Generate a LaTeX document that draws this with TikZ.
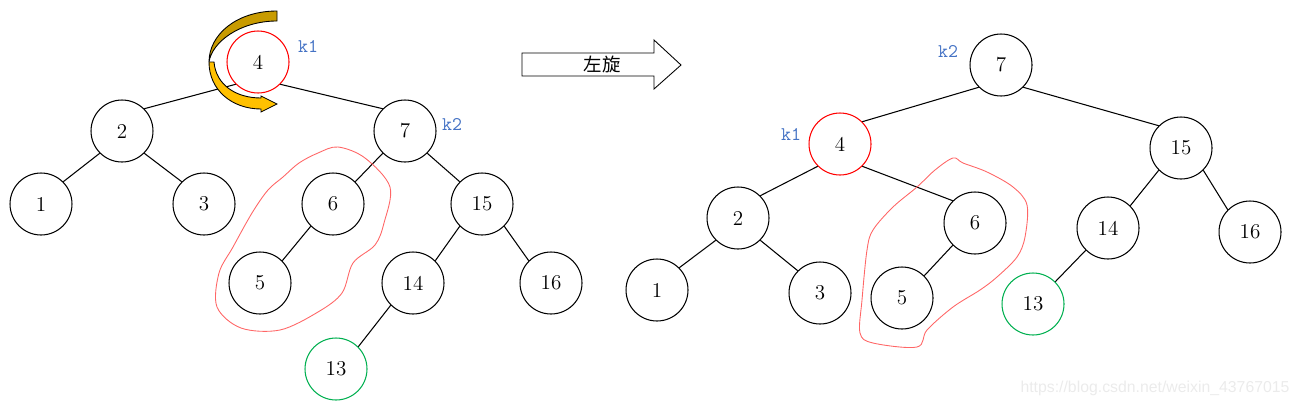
\documentclass[tikz,border=0pt]{standalone}
\usepackage{fontspec}
\newfontfamily\cjk{Noto Sans CJK SC}
\newfontfamily\wmfont{Liberation Sans}
\usetikzlibrary{arrows.meta}
\definecolor{keyblue}{RGB}{68,114,196}
\definecolor{goldtop}{RGB}{200,155,0}
\definecolor{goldlow}{RGB}{255,192,0}
\definecolor{newgreen}{RGB}{0,176,80}

\begin{document}
\begin{tikzpicture}[x=0.02cm, y=-0.02cm,
        treenode/.style={draw, circle, line width=0.6pt, minimum size=1.24cm, inner sep=0pt, fill=white, font=\fontsize{12}{14}\selectfont},
        keylabel/.style={text=keyblue, font=\ttfamily\fontsize{11}{13}\selectfont},
        edge/.style={draw, line width=0.6pt},
        sketch/.style={draw=red!60, line width=0.5pt}
    ]
    \useasboundingbox (0,0) rectangle (1300,406);

    % before the rotation
    \node[treenode, draw=red] (l4) at (258,62) {4};
    \node[treenode] (l2) at (122,131) {2};
    \node[treenode] (l7) at (405,131) {7};
    \node[treenode] (l1) at (41,204) {1};
    \node[treenode] (l3) at (204,204) {3};
    \node[treenode] (l6) at (333,204) {6};
    \node[treenode] (l15) at (482,204) {15};
    \node[treenode] (l5) at (260,283) {5};
    \node[treenode] (l14) at (413,283) {14};
    \node[treenode] (l16) at (551,283) {16};
    \node[treenode, draw=newgreen] (l13) at (336,369) {13};
    \node[keylabel] (lk1) at (308,46) {k1};
    \node[keylabel] (lk2) at (452,124) {k2};

    \draw[edge] (l4.south west) -- (l2.north east);
    \draw[edge] (l4.south east) -- (l7.north west);
    \draw[edge] (l2.south west) -- (l1.north east);
    \draw[edge] (l2.south east) -- (l3.north west);
    \draw[edge] (l7.south west) -- (l6.north east);
    \draw[edge] (l7.south east) -- (l15.north west);
    \draw[edge] (l6.south west) -- (l5.north east);
    \draw[edge] (l15.south west) -- (l14.north east);
    \draw[edge] (l15.south east) -- (l16.north west);
    \draw[edge] (l14.south west) -- (l13.north east);

    % rotation arrow
    \node[font=\cjk\fontsize{10.5}{12}\selectfont] (rot) at (602,64) {左旋};
    \draw[line width=0.5pt] (522,53) -- (654,53) -- (654,40) -- (681,65) -- (654,89) -- (654,76) -- (522,76) -- cycle;

    % after the rotation
    \node[treenode] (r7) at (1001,65) {7};
    \node[treenode, draw=red] (r4) at (840,144) {4};
    \node[treenode] (r15) at (1181,148) {15};
    \node[treenode] (r2) at (738,218) {2};
    \node[treenode] (r6) at (975,223) {6};
    \node[treenode] (r14) at (1108,228) {14};
    \node[treenode] (r16) at (1250,232) {16};
    \node[treenode] (r1) at (657,290) {1};
    \node[treenode] (r3) at (820,293) {3};
    \node[treenode] (r5) at (902,298) {5};
    \node[treenode, draw=newgreen] (r13) at (1033,304) {13};
    \node[keylabel] (rk2) at (948,51) {k2};
    \node[keylabel] (rk1) at (791,134) {k1};

    \draw[edge] (r7.south west) -- (r4.north east);
    \draw[edge] (r7.south east) -- (r15.north west);
    \draw[edge] (r4.south west) -- (r2.north east);
    \draw[edge] (r4.south east) -- (r6.north west);
    \draw[edge] (r2.south west) -- (r1.north east);
    \draw[edge] (r2.south east) -- (r3.north west);
    \draw[edge] (r6.south west) -- (r5.north east);
    \draw[edge] (r15.south west) -- (r14.north east);
    \draw[edge] (r15.south east) -- (r16.north west);
    \draw[edge] (r14.south west) -- (r13.north east);

    % hand-drawn marks round the moved subtree
    \draw[sketch] plot[smooth cycle, tension=0.55] coordinates {(338,147) (365,158) (390,187) (384,223) (375,245) (353,263) (342,293) (318,312) (280,330) (241,328) (217,307) (219,273) (233,247) (252,213) (268,190) (283,177) (299,163) (318,153)};
    \draw[sketch] plot[smooth cycle, tension=0.55] coordinates {(953,158) (963,163) (987,172) (1013,187) (1027,205) (1025,237) (1017,257) (997,277) (980,290) (953,307) (927,330) (917,347) (873,343) (860,333) (862,300) (867,250) (873,230) (893,207) (917,187) (935,170)};

    % curved turn arrow on k1
    \filldraw[fill=goldtop, line width=0.5pt] (277,11) .. controls (236,11) and (209,35) .. (209,62)
        .. controls (212,42) and (240,21) .. (277,21) -- cycle;
    \filldraw[fill=goldlow, line width=0.5pt] (209,62) .. controls (209,90) and (232,109) .. (261,109)
        -- (261,112) -- (277,104) -- (261,96) -- (261,98)
        .. controls (236,98) and (216,85) .. (214,62) -- cycle;

    \node[font=\wmfont\fontsize{9}{11}\selectfont, text=gray!16] (mark) at (1155,388) {https://blog.csdn.net/weixin\_43767015};
\end{tikzpicture}
\end{document}
